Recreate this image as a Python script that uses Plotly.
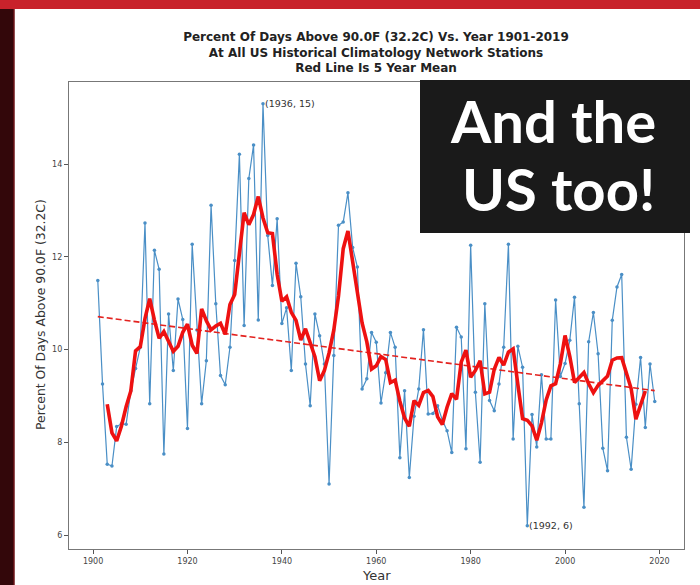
import numpy as np
import pandas as pd
import plotly.graph_objects as go

years = list(range(1901, 2020))
pct_days = [
    11.49, 9.26, 7.53, 7.49, 8.34, 8.40, 8.39, 9.11, 9.59, 10.05,   # 1901-1910
    12.73, 8.83, 12.14, 11.73, 7.75, 10.77, 9.55, 11.09, 10.65, 8.30,  # 1911-1920
    12.27, 10.42, 8.83, 9.76, 13.11, 10.99, 9.44, 9.24, 10.05, 11.92,  # 1921-1930
    14.21, 10.52, 13.69, 14.41, 10.64, 15.30, 12.46, 11.38, 12.82, 10.56,  # 1931-1940
    10.90, 9.55, 11.86, 11.14, 9.69, 8.79, 10.77, 10.30, 9.69, 7.10,  # 1941-1950
    9.87, 12.68, 12.75, 13.38, 12.20, 11.78, 9.15, 9.37, 10.37, 10.16,  # 1951-1960
    8.85, 9.50, 10.37, 10.05, 7.67, 9.11, 7.24, 8.56, 9.15, 10.43,  # 1961-1970
    8.61, 8.62, 8.79, 8.48, 8.25, 7.78, 10.48, 10.27, 7.86, 12.25,  # 1971-1980
    9.08, 7.57, 10.99, 8.90, 8.68, 9.26, 10.05, 12.27, 8.07, 10.07,  # 1981-1990
    9.62, 6.20, 8.60, 7.90, 9.46, 8.07, 8.07, 11.07, 9.42, 9.70,  # 1991-2000
    10.20, 11.13, 8.83, 6.60, 10.17, 10.80, 9.91, 7.87, 7.39, 10.63,  # 2001-2010
    11.35, 11.62, 8.11, 7.42, 8.82, 9.83, 8.32, 9.69, 8.88,  # 2011-2019
]
x_ticks = [1900, 1920, 1940, 1960, 1980, 2000, 2020]
y_ticks = [6, 8, 10, 12, 14]
title_lines = [
    "Percent Of Days Above 90.0F (32.2C) Vs. Year 1901-2019",
    "At All US Historical Climatology Network Stations",
    "Red Line Is 5 Year Mean",
]
y_label = "Percent Of Days Above 90.0F (32.2C)"
x_label = "Year"
overlay_lines = ["And the", "US too!"]

s = pd.Series(pct_days, index=years)
mean5 = s.rolling(5, center=True).mean()
coef = np.polyfit(years, pct_days, 1)
trend = np.polyval(coef, years)

imax = int(np.argmax(pct_days))
imin = int(np.argmin(pct_days))

W, H = 700, 585
L, R, T, B = 69, 684, 82, 549
pw, ph = R - L, B - T


def px(x):
    return (x - L) / pw


def py(y):
    return (B - y) / ph


fig = go.Figure()
fig.add_trace(go.Scatter(
    x=years, y=pct_days, mode="lines+markers",
    line=dict(color="#4a8fc6", width=1.2),
    marker=dict(size=3.5, color="#4a8fc6"),
    showlegend=False, hoverinfo="x+y"))
fig.add_trace(go.Scatter(
    x=years, y=trend, mode="lines",
    line=dict(color="#e3221f", width=1.6, dash="6px,3px"),
    showlegend=False))
fig.add_trace(go.Scatter(
    x=years, y=mean5.values, mode="lines",
    line=dict(color="#ee1111", width=3.6),
    showlegend=False))

annotations = [
    dict(x=years[imax], y=pct_days[imax], xref="x", yref="y",
         text=f"({years[imax]}, {int(pct_days[imax])})", showarrow=False,
         xanchor="left", yanchor="middle", font=dict(size=9.5, color="#333")),
    dict(x=years[imin], y=pct_days[imin], xref="x", yref="y",
         text=f"({years[imin]}, {int(pct_days[imin])})", showarrow=False,
         xanchor="left", yanchor="middle", font=dict(size=9.5, color="#333")),
    dict(x=px(40), y=py(315), xref="paper", yref="paper", text=y_label,
         textangle=-90, showarrow=False, xanchor="center", yanchor="middle",
         font=dict(size=12.4, color="#333")),
    dict(x=px(376), y=py(575), xref="paper", yref="paper", text=x_label,
         showarrow=False, xanchor="center", yanchor="middle",
         font=dict(size=13, color="#333")),
    dict(x=px(553), y=py(121), xref="paper", yref="paper", text=overlay_lines[0],
         showarrow=False, xanchor="center", yanchor="middle",
         font=dict(size=58, color="white", family="Lato", weight="bold")),
    dict(x=px(558), y=py(189), xref="paper", yref="paper", text=overlay_lines[1],
         showarrow=False, xanchor="center", yanchor="middle",
         font=dict(size=58, color="white", family="Lato", weight="bold")),
]

shapes = [
    # red top band
    dict(type="rect", xref="paper", yref="paper", x0=px(0), x1=px(W),
         y0=py(9), y1=py(0), fillcolor="#c8222b", line=dict(width=0), layer="above"),
    # dark left strip
    dict(type="rect", xref="paper", yref="paper", x0=px(0), x1=px(14),
         y0=py(H), y1=py(9), fillcolor="#33070a", line=dict(width=0), layer="above"),
    dict(type="line", xref="paper", yref="paper", x0=px(14), x1=px(14),
         y0=py(H), y1=py(9), line=dict(color="#6e1518", width=1.5), layer="above"),
    # black overlay box
    dict(type="rect", xref="paper", yref="paper", x0=px(420), x1=px(690),
         y0=py(233), y1=py(80), fillcolor="#1a1a1a", line=dict(width=0), layer="above"),
]

fig.update_layout(
    width=W, height=H,
    margin=dict(l=L, r=W - R, t=T, b=H - B),
    paper_bgcolor="white", plot_bgcolor="white",
    font=dict(family="DejaVu Sans", color="#333"),
    title=dict(
        text="<br>".join(f"<b>{t}</b>" for t in title_lines),
        x=px(376), xref="paper", xanchor="center",
        y=1 - 41 / H, yref="container", yanchor="top",
        font=dict(size=12, color="#222", family="DejaVu Sans")),
    xaxis=dict(range=[1894.9, 2025.2], tickvals=x_ticks, ticks="outside",
               ticklen=4, tickcolor="#555", tickfont=dict(size=8, color="#444"),
               showgrid=False, zeroline=False, showline=True, linecolor="#777",
               linewidth=1.3, mirror=True),
    yaxis=dict(range=[5.70, 15.77], tickvals=y_ticks, ticks="outside",
               ticklen=4, tickcolor="#555", tickfont=dict(size=8, color="#444"),
               showgrid=False, zeroline=False, showline=True, linecolor="#777",
               linewidth=1.3, mirror=True),
    annotations=annotations,
    shapes=shapes,
    showlegend=False,
)

fig.write_html(
    "out.html",
    config={"displayModeBar": False},
    post_script="document.body.style.margin='0';document.body.style.overflow='hidden';",
)
